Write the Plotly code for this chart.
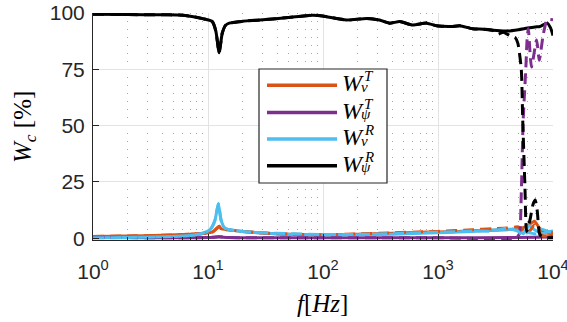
import plotly.graph_objects as go

# ---------------- data ----------------
f_or_s = [1, 2, 4, 7, 9.5, 11, 12, 12.5, 13, 15, 20, 30, 50, 100, 200, 400, 700, 1000, 1500, 2000, 3000, 4000, 5000, 6000, 6900, 7500, 8500, 10000]
v_or_s = [0.8, 1.0, 1.3, 1.8, 2.2, 2.8, 4.5, 5.3, 4.2, 3.7, 3.0, 2.3, 1.8, 1.5, 1.8, 2.2, 2.6, 2.8, 3.0, 3.3, 3.5, 3.8, 4.2, 5.5, 7.5, 5.0, 2.5, 2.0]
f_or_d = [1, 2, 4, 7, 9.5, 11, 12, 12.5, 13, 15, 20, 30, 50, 100, 200, 400, 700, 1000, 2000, 3000, 4000, 5000, 5500, 6000, 6900, 7500, 8000, 9000, 10000]
v_or_d = [0.8, 1.0, 1.3, 1.8, 2.2, 2.8, 4.5, 5.3, 4.2, 3.7, 3.0, 2.3, 1.8, 1.5, 1.9, 2.4, 2.8, 3.0, 3.8, 4.2, 4.5, 5.0, 3.5, 2.0, 6.0, 3.0, 1.2, 1.0, 3.0]

f_pu_s = [1, 10, 12.5, 15, 100, 1000, 5000, 8000, 10000]
v_pu_s = [0.3, 0.3, 0.6, 0.3, 0.2, 0.2, 0.3, 0.5, 0.8]
f_pu_d = [1, 10, 12.5, 15, 100, 1000, 4800, 5100, 5300, 5500, 5800, 5950, 6100, 6500, 7200, 7600, 8200, 8900, 10000]
v_pu_d = [0.3, 0.3, 0.6, 0.3, 0.2, 0.2, 0.3, 2.0, 20, 52, 75, 88, 93, 76, 88, 79, 90, 97, 97]

f_cy_s = [1, 2, 4, 7, 9, 10.5, 11.5, 12.3, 13, 14, 16, 20, 30, 50, 100, 200, 400, 700, 1000, 1500, 2000, 3000, 4000, 5000, 5500, 6200, 7000, 8000, 9000, 10000]
v_cy_s = [0.2, 0.3, 0.6, 1.2, 2.2, 4.0, 8.0, 15.3, 8.0, 4.5, 3.6, 3.0, 2.3, 1.8, 1.4, 1.5, 1.8, 2.2, 2.4, 2.7, 3.0, 3.6, 4.0, 3.5, 2.0, 5.5, 3.5, 2.0, 2.8, 3.2]
f_cy_d = [1, 2, 4, 7, 9, 10.5, 11.5, 12.3, 13, 14, 16, 20, 30, 50, 100, 200, 400, 700, 1000, 2000, 3000, 4000, 5000, 5500, 6000, 7000, 8000, 9000, 10000]
v_cy_d = [0.2, 0.3, 0.6, 1.2, 2.2, 4.0, 8.0, 15.3, 8.0, 4.5, 3.6, 3.0, 2.4, 2.0, 1.6, 1.7, 2.0, 2.4, 2.6, 3.2, 3.2, 4.5, 3.0, 1.0, 2.5, 2.0, 4.0, 3.0, 2.5]

f_bk_s = [1, 2, 4, 5.6, 7, 9, 10.9, 11.7, 12.5, 13.3, 14.2, 15.3, 20, 30, 50, 81, 99, 160, 240, 310, 380, 465, 600, 800, 975, 1300, 1550, 2000, 2500, 3000, 4000, 5000, 6000, 7000, 7700, 8900, 9500, 10000]
v_bk_s = [99.5, 99.3, 99.2, 99.1, 98.6, 97.5, 96.2, 92, 82.4, 91, 94.5, 95.5, 96.3, 97.0, 98.0, 99.0, 98.7, 96.9, 97.6, 96.9, 95.5, 96.2, 94.7, 95.5, 94.3, 94.0, 94.3, 93.0, 92.8, 92.3, 92.0, 92.6, 93.3, 93.8, 94.0, 95.5, 93.5, 90.0]
f_bk_d = [1, 2, 4, 5.6, 7, 9, 10.9, 11.7, 12.5, 13.3, 14.2, 15.3, 20, 30, 50, 81, 99, 160, 240, 310, 380, 465, 600, 800, 975, 1300, 1550, 2000, 2500, 3000, 3300, 3700, 4200, 4700, 4950, 5300, 5450, 5700, 5900, 6300, 6700, 7000, 7300, 7700, 8500, 10000]
v_bk_d = [99.5, 99.3, 99.2, 99.1, 98.6, 97.5, 96.2, 92, 82.4, 91, 94.5, 95.5, 96.3, 97.0, 98.0, 99.0, 98.7, 96.9, 97.6, 96.9, 95.5, 96.2, 94.7, 95.5, 94.3, 94.0, 94.3, 93.0, 92.8, 92.3, 90.5, 91.5, 90.0, 89.0, 86.5, 75, 53, 23, 3, 8, 15, 17, 12, 1.5, 0.3, 0.2]

x_tick_vals = [1, 10, 100, 1000, 10000]
x_tick_text = ["10<sup>0</sup>", "10<sup>1</sup>", "10<sup>2</sup>", "10<sup>3</sup>", "10<sup>4</sup>"]
y_tick_vals = [0, 25, 50, 75, 100]

series_names = ["W_v^T", "W_psi^T", "W_v^R", "W_psi^R"]
sup_txt = ["T", "T", "R", "R"]
sub_txt = ["v", "ψ", "v", "ψ"]
colors = ["#D95319", "#7E2F8E", "#4DBEEE", "#000000"]

# ---------------- figure ----------------
W, H = 567, 322
L, R, T, B = 93, 14, 13, 82
def px_x(p):
    return (p - L) / (W - L - R)
def px_y(p):
    return (H - B - p) / (H - T - B)

fig = go.Figure()
solid = [(f_or_s, v_or_s), (f_pu_s, v_pu_s), (f_cy_s, v_cy_s), (f_bk_s, v_bk_s)]
dashed = [(f_or_d, v_or_d), (f_pu_d, v_pu_d), (f_cy_d, v_cy_d), (f_bk_d, v_bk_d)]
for (fx, vy), c, n in zip(solid, colors, series_names):
    fig.add_trace(go.Scatter(x=fx, y=vy, mode="lines", name=n,
                             line=dict(color=c, width=3, shape="spline", smoothing=0.6),
                             showlegend=False))
for (fx, vy), c, n in zip(dashed, colors, series_names):
    fig.add_trace(go.Scatter(x=fx, y=vy, mode="lines", name=n + " dashed",
                             line=dict(color=c, width=3, dash="11px,6px", shape="spline", smoothing=0.6),
                             showlegend=False))

axis_col = "#262626"
tfont = dict(family="Liberation Sans, Arial", size=21, color=axis_col)
fig.update_xaxes(type="log", range=[0, 4], tickvals=x_tick_vals, ticktext=x_tick_text,
                 ticks="inside", ticklen=6, tickcolor=axis_col, showline=True, linecolor=axis_col,
                 linewidth=1, mirror=False, showgrid=True, gridcolor="#e3e3e3", gridwidth=1,
                 zeroline=False, ticklabelstandoff=13, automargin=False,
                 ticklabeloverflow="allow", tickfont=tfont,
                 minor=dict(dtick="D1", ticks="inside", ticklen=3, tickcolor=axis_col,
                            showgrid=True, gridcolor="#a8a8a8", griddash="1px,7px", gridwidth=1))
fig.update_yaxes(range=[-0.8, 100], tickvals=y_tick_vals, ticks="inside", ticklen=6,
                 tickcolor=axis_col, showline=True, linecolor=axis_col, linewidth=1,
                 showgrid=True, gridcolor="#e3e3e3", gridwidth=1, zeroline=False,
                 ticklabelstandoff=3, automargin=False, ticklabeloverflow="allow",
                 tickfont=tfont)

shapes = [dict(type="rect", xref="paper", yref="paper", x0=px_x(259), x1=px_x(387),
               y0=px_y(183), y1=px_y(69), line=dict(color="#262626", width=1.2),
               fillcolor="white", layer="above")]
annotations = []
entry_y = [85.3, 112.5, 139.0, 165.7]
serif = "Liberation Serif, Times New Roman, serif"
for ey, c, sp, sb in zip(entry_y, colors, sup_txt, sub_txt):
    shapes.append(dict(type="line", xref="paper", yref="paper", x0=px_x(267), x1=px_x(337),
                       y0=px_y(ey), y1=px_y(ey), line=dict(color=c, width=3.5), layer="above"))
    annotations.append(dict(xref="paper", yref="paper", x=px_x(340), y=px_y(ey - 2),
                            text="<i>W</i>", showarrow=False, xanchor="left", yanchor="middle",
                            font=dict(family=serif, size=24, color="black")))
    annotations.append(dict(xref="paper", yref="paper", x=px_x(362), y=px_y(ey - 9),
                            text="<i>" + sp + "</i>", showarrow=False, xanchor="left", yanchor="middle",
                            font=dict(family=serif, size=15, color="black")))
    annotations.append(dict(xref="paper", yref="paper", x=px_x(359), y=px_y(ey + 1.5),
                            text="<i>" + sb + "</i>", showarrow=False, xanchor="left", yanchor="middle",
                            font=dict(family=serif, size=15, color="black")))

annotations.append(dict(xref="paper", yref="paper", x=px_x(24), y=px_y(127),
                        text="<i>W</i><sub><i>c</i></sub> [%]", textangle=-90, showarrow=False,
                        xanchor="center", yanchor="middle",
                        font=dict(family=serif, size=25, color="black")))
annotations.append(dict(xref="paper", yref="paper", x=px_x(322), y=px_y(303),
                        text="<i>f</i>[<i>Hz</i>]", showarrow=False,
                        xanchor="center", yanchor="middle",
                        font=dict(family=serif, size=25, color="black")))

fig.update_layout(width=W, height=H, margin=dict(l=L, r=R, t=T, b=B),
                  paper_bgcolor="white", plot_bgcolor="white", showlegend=False,
                  shapes=shapes, annotations=annotations)

fig.write_html("out.html")
